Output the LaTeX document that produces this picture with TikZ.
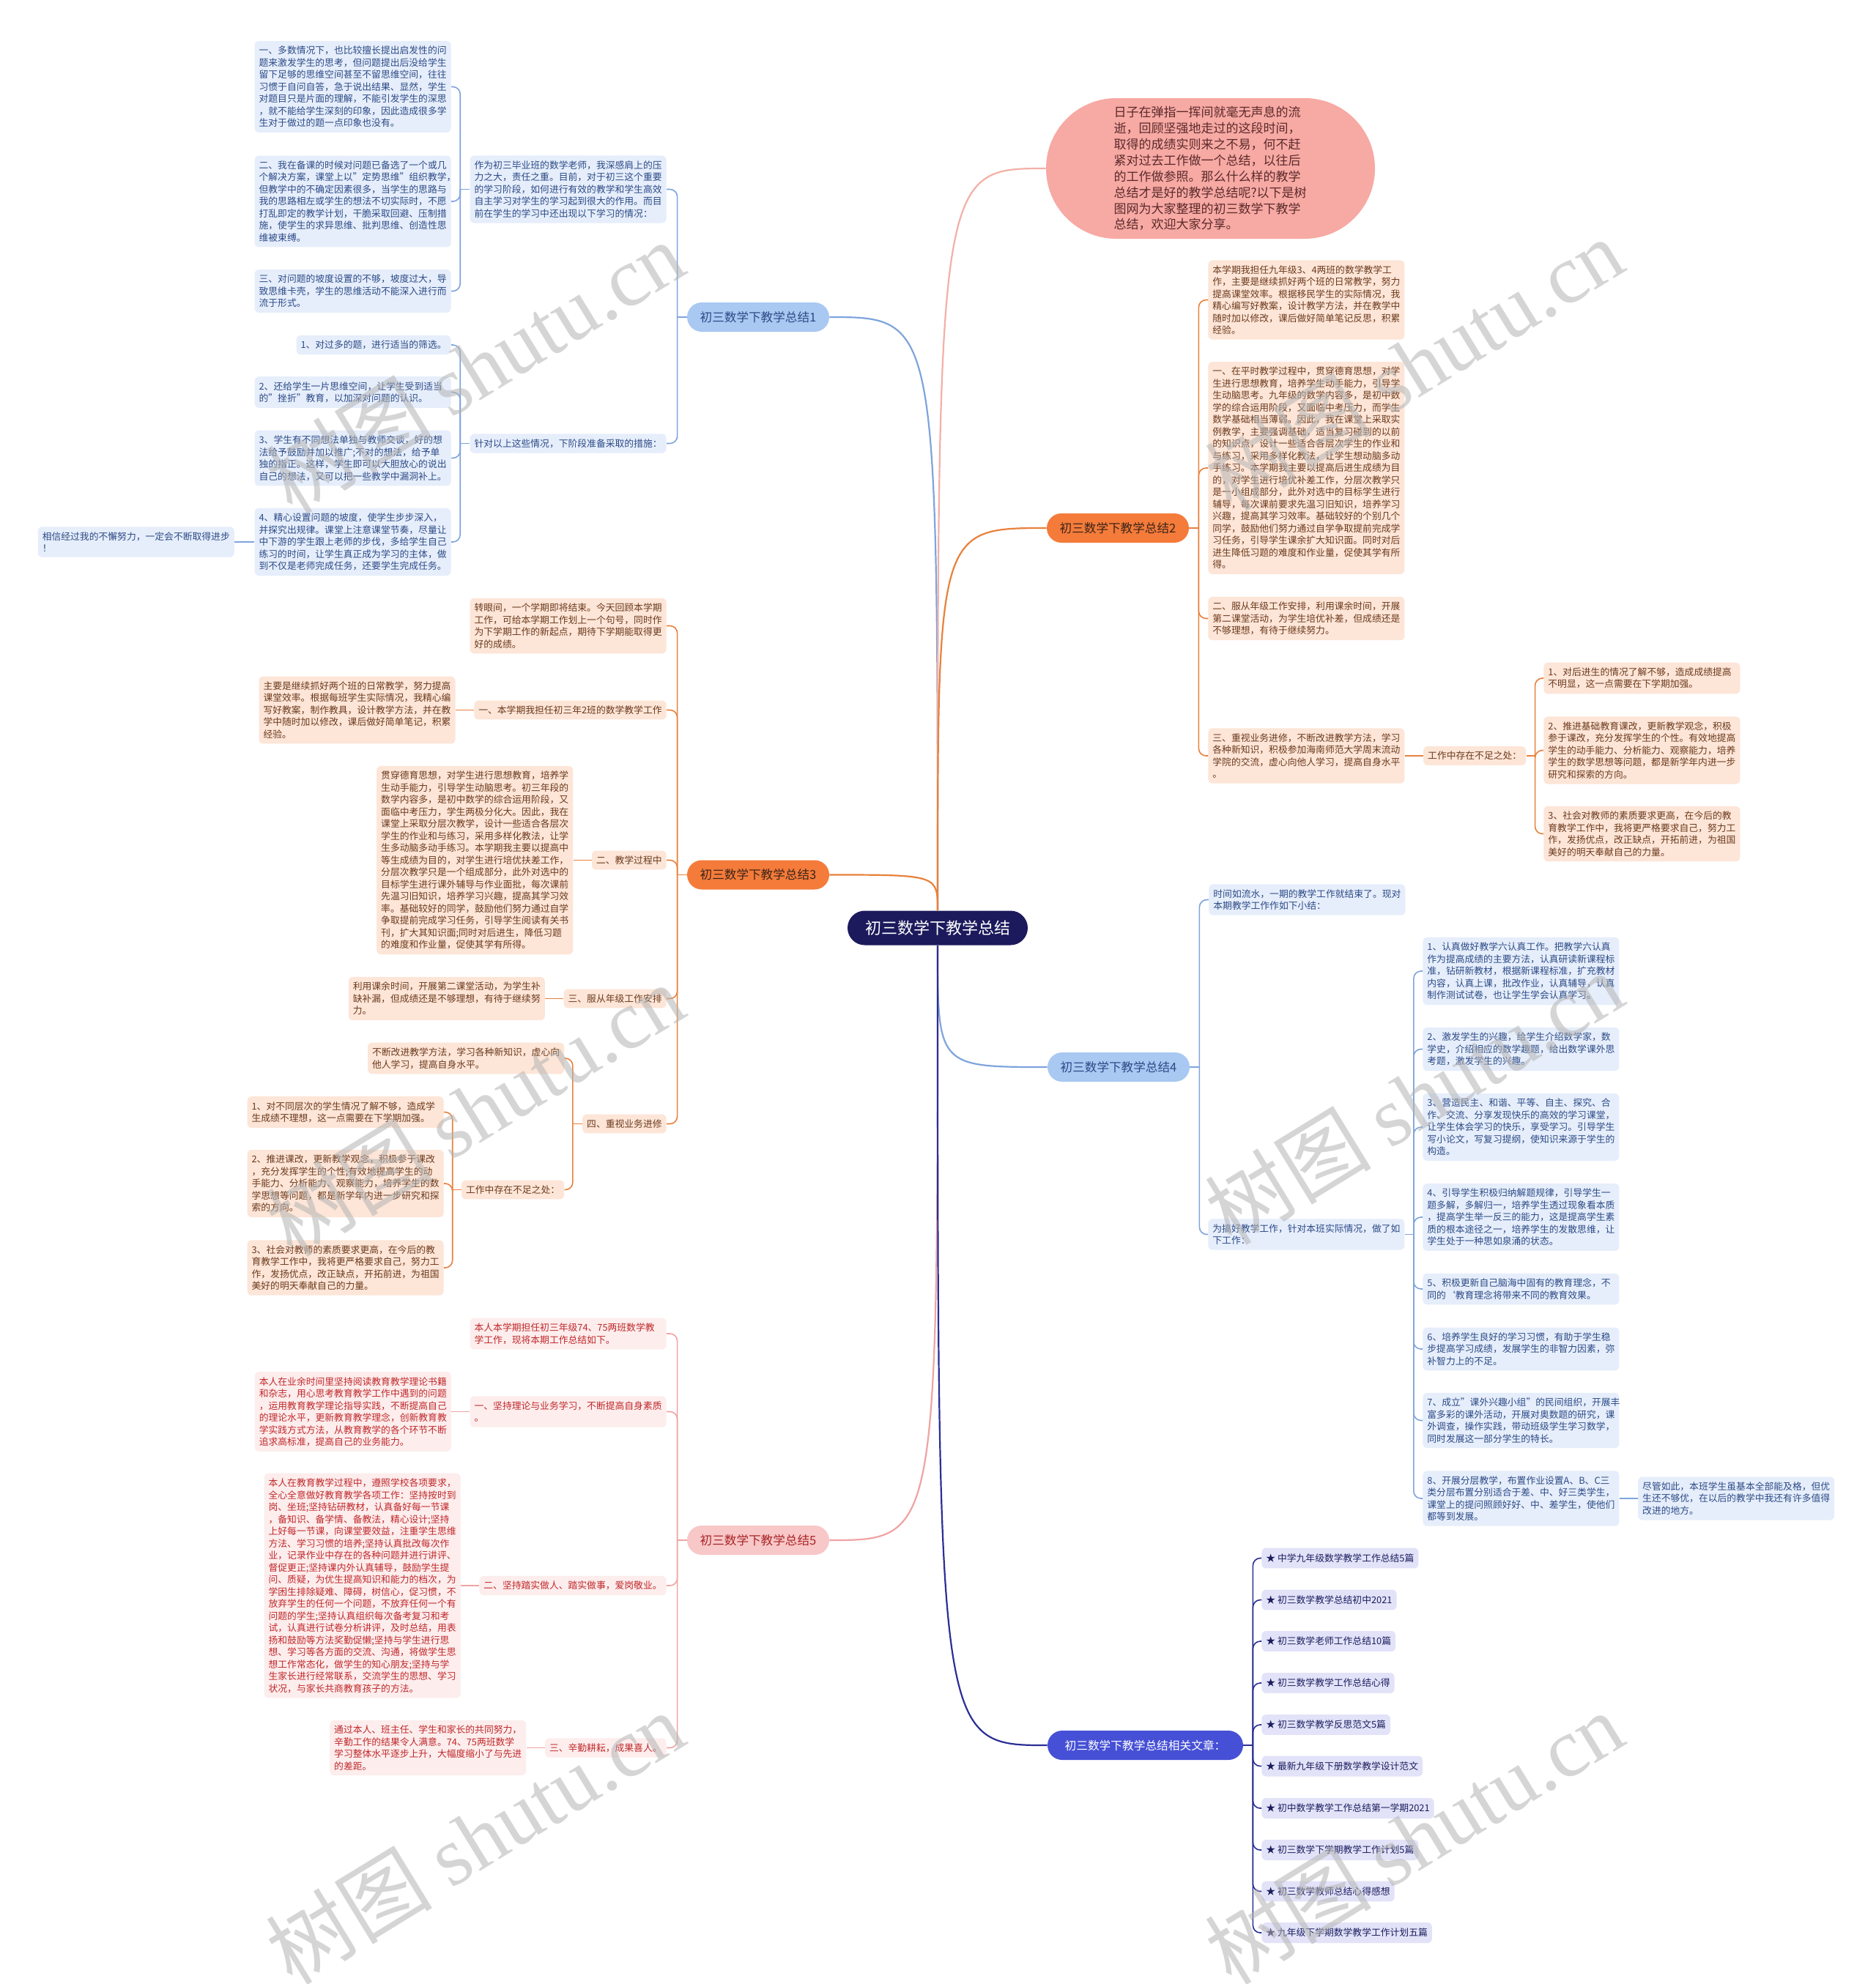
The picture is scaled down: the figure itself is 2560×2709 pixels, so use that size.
\documentclass[tikz,border=0pt]{standalone}
\usepackage{fontspec}
\setmainfont{Noto Sans CJK SC}
\newfontfamily\wmfont{Liberation Serif}
\usepackage{xcolor}
\usetikzlibrary{positioning}
\definecolor{CoreNavy}{HTML}{1C1A5C}
\definecolor{BlueNode}{HTML}{A9C8F2}
\definecolor{BlueText}{HTML}{2C4A86}
\definecolor{BlueBox}{HTML}{E6EEFB}
\definecolor{BlueLine}{HTML}{7EA4DC}
\definecolor{OrangeNode}{HTML}{F47B3A}
\definecolor{OrangeDark}{HTML}{3D2418}
\definecolor{OrangeBox}{HTML}{FDE5D7}
\definecolor{OrangeText}{HTML}{6B3A1D}
\definecolor{OrangeLine}{HTML}{E8813C}
\definecolor{PinkNode}{HTML}{F8C7C7}
\definecolor{PinkDark}{HTML}{A82426}
\definecolor{PinkBox}{HTML}{FDEDED}
\definecolor{PinkText}{HTML}{C0282A}
\definecolor{PinkLine}{HTML}{F0A3A3}
\definecolor{IntroFill}{HTML}{F7A9A4}
\definecolor{IntroText}{HTML}{5A2A2A}
\definecolor{IntroLine}{HTML}{F3B0A6}
\definecolor{ArtNode}{HTML}{4650D6}
\definecolor{ArtBox}{HTML}{E2E3F8}
\definecolor{ArtText}{HTML}{1C1D5E}
\definecolor{ArtLine}{HTML}{2B2F96}
\definecolor{WaterGray}{HTML}{B4B4B4}
\newcommand\boxfont{\fontsize{6.4pt}{8.25pt}\selectfont}
\newcommand\branchfont{\fontsize{8.3pt}{10pt}\selectfont}
\newcommand\corefont{\fontsize{11pt}{13pt}\selectfont}
\newcommand\introfont{\fontsize{8.5pt}{10.95pt}\selectfont}

\begin{document}
\begin{tikzpicture}[
  x=0.5pt, y=-0.5pt,
  node distance=12.5pt,
  box/.style={rounded corners=3pt,inner xsep=3pt,inner ysep=3.5pt,align=left,font=\boxfont},
  para/.style={box,text width=128pt},
  bpara/.style={para,fill=BlueBox,text=BlueText},
  bline/.style={box,fill=BlueBox,text=BlueText},
  opara/.style={para,fill=OrangeBox,text=OrangeText},
  oline/.style={box,fill=OrangeBox,text=OrangeText},
  ppara/.style={para,fill=PinkBox,text=PinkText},
  pline/.style={box,fill=PinkBox,text=PinkText},
  artbox/.style={box,fill=ArtBox,text=ArtText,inner ysep=4pt},
  branch/.style={rounded corners=10pt,minimum width=97pt,minimum height=20pt,inner sep=0pt,font=\branchfont},
  link/.style={rounded corners=5pt,line width=0.8pt},
  mainlink/.style={line width=1.1pt},
  wmark/.style={rotate=31.5,text=WaterGray,opacity=0.55,font=\fontsize{57pt}{60pt}\selectfont}
]
  \useasboundingbox[fill=white] (0,0) rectangle (2560,2709);

  % centre and intro
  \node[fill=CoreNavy,text=white,rounded corners=11.75pt,minimum width=123pt,minimum height=23.5pt,inner sep=0pt,font=\corefont] (core) at (1280,1267) {初三数学下教学总结};
  \node[fill=IntroFill,text=IntroText,rounded corners=48pt,minimum width=224.5pt,minimum height=96pt,inner sep=0pt,text width=132pt,align=left,font=\introfont] (intro) at (1652.5,230) {日子在弹指一挥间就毫无声息的流\\逝，回顾坚强地走过的这段时间，\\取得的成绩实则来之不易，何不赶\\紧对过去工作做一个总结，以往后\\的工作做参照。那么什么样的教学\\总结才是好的教学总结呢?以下是树\\图网为大家整理的初三数学下教学\\总结，欢迎大家分享。};

  % branch nodes
  \node[branch,fill=BlueNode,text=BlueText] (b1) at (1035,433) {初三数学下教学总结1};
  \node[branch,fill=OrangeNode,text=OrangeDark] (b2) at (1526,721) {初三数学下教学总结2};
  \node[branch,fill=OrangeNode,text=OrangeDark] (b3) at (1035,1194.5) {初三数学下教学总结3};
  \node[branch,fill=BlueNode,text=BlueText] (b4) at (1527,1457) {初三数学下教学总结4};
  \node[branch,fill=PinkNode,text=PinkDark] (b5) at (1035,2103) {初三数学下教学总结5};
  \node[branch,fill=ArtNode,text=white,minimum width=133.5pt,font=\fontsize{7.85pt}{9pt}\selectfont] (b6) at (1563.5,2383) {初三数学下教学总结相关文章：};

  % branch 1
  \node[bpara,anchor=east] (n1a) at (910,258.5) {作为初三毕业班的数学老师，我深感肩上的压\\力之大，责任之重。目前，对于初三这个重要\\的学习阶段，如何进行有效的教学和学生高效\\自主学习对学生的学习起到很大的作用。而目\\前在学生的学习中还出现以下学习的情况：};
  \node[bline,anchor=east] (n1b) at (910,605.5) {针对以上这些情况，下阶段准备采取的措施：};
  \node[bpara,anchor=east] (n1a1) at (616,118.5) {一、多数情况下，也比较擅长提出启发性的问\\题来激发学生的思考，但问题提出后没给学生\\留下足够的思维空间甚至不留思维空间，往往\\习惯于自问自答，急于说出结果、显然，学生\\对题目只是片面的理解，不能引发学生的深思\\，就不能给学生深刻的印象，因此造成很多学\\生对于做过的题一点印象也没有。};
  \node[bpara,anchor=east] (n1a2) at (616,275) {二、我在备课的时候对问题已备选了一个或几\\个解决方案，课堂上以"定势思维"组织教学，\\但教学中的不确定因素很多，当学生的思路与\\我的思路相左或学生的想法不切实际时，不愿\\打乱即定的教学计划，干脆采取回避、压制措\\施，使学生的求异思维、批判思维、创造性思\\维被束缚。};
  \node[bpara,anchor=east] (n1a3) at (616,397.5) {三、对问题的坡度设置的不够，坡度过大，导\\致思维卡壳，学生的思维活动不能深入进行而\\流于形式。};
  \node[bline,anchor=east] (n1b1) at (616,471) {1、对过多的题，进行适当的筛选。};
  \node[bpara,anchor=east] (n1b2) at (616,535.5) {2、还给学生一片思维空间，让学生受到适当\\的"挫折"教育，以加深对问题的认识。};
  \node[bpara,anchor=east] (n1b3) at (616,625.5) {3、学生有不同想法单独与教师交谈，好的想\\法给予鼓励并加以推广;不对的想法，给予单\\独的指正。这样，学生即可以大胆放心的说出\\自己的想法，又可以把一些教学中漏洞补上。};
  \node[bpara,anchor=east] (n1b4) at (616,740) {4、精心设置问题的坡度，使学生步步深入，\\并探究出规律。课堂上注意课堂节奏，尽量让\\中下游的学生跟上老师的步伐，多给学生自己\\练习的时间，让学生真正成为学习的主体，做\\到不仅是老师完成任务，还要学生完成任务。};
  \node[bpara,left=13.5pt of n1b4] (n1b4a) {相信经过我的不懈努力，一定会不断取得进步\\！};

  % branch 2
  \node[opara,anchor=west] (n2a) at (1649,409.5) {本学期我担任九年级3、4两班的数学教学工\\作，主要是继续抓好两个班的日常教学，努力\\提高课堂效率。根据移民学生的实际情况，我\\精心编写好教案，设计教学方法，并在教学中\\随时加以修改，课后做好简单笔记反思，积累\\经验。};
  \node[opara,anchor=west] (n2b) at (1649,639) {一、在平时教学过程中，贯穿德育思想，对学\\生进行思想教育，培养学生动手能力，引导学\\生动脑思考。九年级的数学内容多，是初中数\\学的综合运用阶段，又面临中考压力，而学生\\数学基础相当薄弱。因此，我在课堂上采取实\\例教学，主要强调基础，适当复习碰到的以前\\的知识点，设计一些适合各层次学生的作业和\\与练习，采用多样化教法，让学生想动脑多动\\手练习。本学期我主要以提高后进生成绩为目\\的，对学生进行培优补差工作，分层次教学只\\是一小组成部分，此外对选中的目标学生进行\\辅导，每次课前要求先温习旧知识，培养学习\\兴趣，提高其学习效率。基础较好的个别几个\\同学，鼓励他们努力通过自学争取提前完成学\\习任务，引导学生课余扩大知识面。同时对后\\进生降低习题的难度和作业量，促使其学有所\\得。};
  \node[opara,anchor=west] (n2c) at (1649,844.5) {二、服从年级工作安排，利用课余时间，开展\\第二课堂活动，为学生培优补差，但成绩还是\\不够理想，有待于继续努力。};
  \node[opara,anchor=west] (n2d) at (1649,1032) {三、重视业务进修，不断改进教学方法，学习\\各种新知识，积极参加海南师范大学周末流动\\学院的交流，虚心向他人学习，提高自身水平\\。};
  \node[oline,right=of n2d] (n2d1) {工作中存在不足之处：};
  \node[opara,anchor=west] (n2d1a) at (2107,926) {1、对后进生的情况了解不够，造成成绩提高\\不明显，这一点需要在下学期加强。};
  \node[opara,anchor=west] (n2d1b) at (2107,1024.5) {2、推进基础教育课改，更新教学观念，积极\\参于课改，充分发挥学生的个性。有效地提高\\学生的动手能力、分析能力、观察能力，培养\\学生的数学思想等问题，都是新学年内进一步\\研究和探索的方向。};
  \node[opara,anchor=west] (n2d1c) at (2107,1138.5) {3、社会对教师的素质要求更高，在今后的教\\育教学工作中，我将更严格要求自己，努力工\\作，发扬优点，改正缺点，开拓前进，为祖国\\美好的明天奉献自己的力量。};

  % branch 3
  \node[opara,anchor=east] (n3a) at (910,854.5) {转眼间，一个学期即将结束。今天回顾本学期\\工作，可给本学期工作划上一个句号，同时作\\为下学期工作的新起点，期待下学期能取得更\\好的成绩。};
  \node[oline,anchor=east] (n3b) at (910,969.5) {一、本学期我担任初三年2班的数学教学工作};
  \node[opara,left=of n3b] (n3b1) {主要是继续抓好两个班的日常教学，努力提高\\课堂效率。根据每班学生实际情况，我精心编\\写好教案，制作教具，设计教学方法，并在教\\学中随时加以修改，课后做好简单笔记，积累\\经验。};
  \node[oline,anchor=east] (n3c) at (910,1174.5) {二、教学过程中};
  \node[opara,left=of n3c] (n3c1) {贯穿德育思想，对学生进行思想教育，培养学\\生动手能力，引导学生动脑思考。初三年段的\\数学内容多，是初中数学的综合运用阶段，又\\面临中考压力，学生两极分化大。因此，我在\\课堂上采取分层次教学，设计一些适合各层次\\学生的作业和与练习，采用多样化教法，让学\\生多动脑多动手练习。本学期我主要以提高中\\等生成绩为目的，对学生进行培优扶差工作，\\分层次教学只是一个组成部分，此外对选中的\\目标学生进行课外辅导与作业面批，每次课前\\先温习旧知识，培养学习兴趣，提高其学习效\\率。基础较好的同学，鼓励他们努力通过自学\\争取提前完成学习任务，引导学生阅读有关书\\刊，扩大其知识面;同时对后进生，降低习题\\的难度和作业量，促使其学有所得。};
  \node[oline,anchor=east] (n3d) at (910,1363.5) {三、服从年级工作安排};
  \node[opara,left=of n3d] (n3d1) {利用课余时间，开展第二课堂活动，为学生补\\缺补漏，但成绩还是不够理想，有待于继续努\\力。};
  \node[oline,anchor=east] (n3e) at (910,1534.5) {四、重视业务进修};
  \node[opara,anchor=east] (n3e1) at (770.5,1445) {不断改进教学方法，学习各种新知识，虚心向\\他人学习，提高自身水平。};
  \node[oline,anchor=east] (n3e2) at (770.5,1624.5) {工作中存在不足之处：};
  \node[opara,anchor=east] (n3e2a) at (606,1518.5) {1、对不同层次的学生情况了解不够，造成学\\生成绩不理想，这一点需要在下学期加强。};
  \node[opara,anchor=east] (n3e2b) at (606,1616) {2、推进课改，更新教学观念，积极参于课改\\，充分发挥学生的个性;有效地提高学生的动\\手能力、分析能力、观察能力，培养学生的数\\学思想等问题，都是新学年内进一步研究和探\\索的方向。};
  \node[opara,anchor=east] (n3e2c) at (606,1731) {3、社会对教师的素质要求更高，在今后的教\\育教学工作中，我将更严格要求自己，努力工\\作，发扬优点，改正缺点，开拓前进，为祖国\\美好的明天奉献自己的力量。};

  % branch 4
  \node[bpara,anchor=west] (n4a) at (1650,1228.5) {时间如流水，一期的教学工作就结束了。现对\\本期教学工作作如下小结：};
  \node[bpara,anchor=west] (n4b) at (1649,1685.5) {为搞好教学工作，针对本班实际情况，做了如\\下工作：};
  \node[bpara,anchor=west] (n4b1) at (1942,1326) {1、认真做好教学六认真工作。把教学六认真\\作为提高成绩的主要方法，认真研读新课程标\\准，钻研新教材，根据新课程标准，扩充教材\\内容，认真上课，批改作业，认真辅导，认真\\制作测试试卷，也让学生学会认真学习。};
  \node[bpara,anchor=west] (n4b2) at (1942,1432.5) {2、激发学生的兴趣，给学生介绍数学家，数\\学史，介绍相应的数学趣题，给出数学课外思\\考题，激发学生的兴趣。};
  \node[bpara,anchor=west] (n4b3) at (1942,1539) {3、营造民主、和谐、平等、自主、探究、合\\作、交流、分享发现快乐的高效的学习课堂，\\让学生体会学习的快乐，享受学习。引导学生\\写小论文，写复习提纲，使知识来源于学生的\\构造。};
  \node[bpara,anchor=west] (n4b4) at (1942,1662) {4、引导学生积极归纳解题规律，引导学生一\\题多解，多解归一，培养学生透过现象看本质\\，提高学生举一反三的能力，这是提高学生素\\质的根本途径之一，培养学生的发散思维，让\\学生处于一种思如泉涌的状态。};
  \node[bpara,anchor=west] (n4b5) at (1942,1760) {5、积极更新自己脑海中固有的教育理念，不\\同的`教育理念将带来不同的教育效果。};
  \node[bpara,anchor=west] (n4b6) at (1942,1842) {6、培养学生良好的学习习惯，有助于学生稳\\步提高学习成绩，发展学生的非智力因素，弥\\补智力上的不足。};
  \node[bpara,anchor=west] (n4b7) at (1942,1939.5) {7、成立"课外兴趣小组"的民间组织，开展丰\\富多彩的课外活动，开展对奥数题的研究，课\\外调查，操作实践，带动班级学生学习数学，\\同时发展这一部分学生的特长。};
  \node[bpara,anchor=west] (n4b8) at (1942,2046) {8、开展分层教学，布置作业设置A、B、C三\\类分层布置分别适合于差、中、好三类学生，\\课堂上的提问照顾好好、中、差学生，使他们\\都等到发展。};
  \node[bpara,right=of n4b8] (n4b8a) {尽管如此，本班学生虽基本全部能及格，但优\\生还不够优，在以后的教学中我还有许多值得\\改进的地方。};

  % branch 5
  \node[ppara,anchor=east] (n5a) at (910,1821) {本人本学期担任初三年级74、75两班数学教\\学工作，现将本期工作总结如下。};
  \node[ppara,anchor=east] (n5b) at (910,1927.5) {一、坚持理论与业务学习，不断提高自身素质\\。};
  \node[ppara,left=of n5b] (n5b1) {本人在业余时间里坚持阅读教育教学理论书籍\\和杂志，用心思考教育教学工作中遇到的问题\\，运用教育教学理论指导实践，不断提高自己\\的理论水平，更新教育教学理念，创新教育教\\学实践方式方法，从教育教学的各个环节不断\\追求高标准，提高自己的业务能力。};
  \node[pline,anchor=east] (n5c) at (910,2165) {二、坚持踏实做人、踏实做事，爱岗敬业。};
  \node[ppara,left=of n5c] (n5c1) {本人在教育教学过程中，遵照学校各项要求，\\全心全意做好教育教学各项工作：坚持按时到\\岗、坐班;坚持钻研教材，认真备好每一节课\\，备知识、备学情、备教法，精心设计;坚持\\上好每一节课，向课堂要效益，注重学生思维\\方法、学习习惯的培养;坚持认真批改每次作\\业，记录作业中存在的各种问题并进行讲评、\\督促更正;坚持课内外认真辅导，鼓励学生提\\问、质疑，为优生提高知识和能力的档次，为\\学困生排除疑难、障碍，树信心，促习惯，不\\放弃学生的任何一个问题，不放弃任何一个有\\问题的学生;坚持认真组织每次备考复习和考\\试，认真进行试卷分析讲评，及时总结，用表\\扬和鼓励等方法奖勤促懒;坚持与学生进行思\\想、学习等各方面的交流、沟通，将做学生思\\想工作常态化，做学生的知心朋友;坚持与学\\生家长进行经常联系，交流学生的思想、学习\\状况，与家长共商教育孩子的方法。};
  \node[pline,anchor=east] (n5d) at (910,2386.5) {三、辛勤耕耘，成果喜人。};
  \node[ppara,left=of n5d] (n5d1) {通过本人、班主任、学生和家长的共同努力，\\辛勤工作的结果令人满意。74、75两班数学\\学习整体水平逐步上升，大幅度缩小了与先进\\的差距。};

  % related articles
  \node[artbox,anchor=west] (art1) at (1722,2127.5) {★ 中学九年级数学教学工作总结5篇};
  \node[artbox,anchor=west] (art2) at (1722,2184.5) {★ 初三数学教学总结初中2021};
  \node[artbox,anchor=west] (art3) at (1722,2241) {★ 初三数学老师工作总结10篇};
  \node[artbox,anchor=west] (art4) at (1722,2298) {★ 初三数学教学工作总结心得};
  \node[artbox,anchor=west] (art5) at (1722,2355) {★ 初三数学教学反思范文5篇};
  \node[artbox,anchor=west] (art6) at (1722,2411.5) {★ 最新九年级下册数学教学设计范文};
  \node[artbox,anchor=west] (art7) at (1722,2469) {★ 初中数学教学工作总结第一学期2021};
  \node[artbox,anchor=west] (art8) at (1722,2526) {★ 初三数学下学期教学工作计划5篇};
  \node[artbox,anchor=west] (art9) at (1722,2582.5) {★ 初三数学教师总结心得感想};
  \node[artbox,anchor=west] (art10) at (1722,2639) {★ 九年级下学期数学教学工作计划五篇};

  % main connectors
  \draw[mainlink,BlueLine] (core.north) .. controls (core.north |- b1.east) .. (b1.east);
  \draw[mainlink,IntroLine] (core.north) .. controls (core.north |- intro.west) .. (intro.west);
  \draw[mainlink,OrangeLine] (core.north) .. controls (core.north |- b2.west) .. (b2.west);
  \draw[mainlink,OrangeLine] (core.north) .. controls (core.north |- b3.east) .. (b3.east);
  \draw[mainlink,BlueLine] (core.south) .. controls (core.south |- b4.west) .. (b4.west);
  \draw[mainlink,PinkLine] (core.south) .. controls (core.south |- b5.east) .. (b5.east);
  \draw[mainlink,ArtLine] (core.south) .. controls (core.south |- b6.west) .. (b6.west);

  % branch 1 links
  \draw[link,BlueLine] (b1.west) -- ++(-13,0) coordinate (t1);
  \draw[link,BlueLine] (t1) |- (n1a.east);
  \draw[link,BlueLine] (t1) |- (n1b.east);
  \draw[link,BlueLine] (n1a.west) -- ++(-13,0) coordinate (t1a);
  \draw[link,BlueLine] (t1a) |- (n1a1.east);
  \draw[link,BlueLine] (t1a) |- (n1a2.east);
  \draw[link,BlueLine] (t1a) |- (n1a3.east);
  \draw[link,BlueLine] (n1b.west) -- ++(-13,0) coordinate (t1b);
  \draw[link,BlueLine] (t1b) |- (n1b1.east);
  \draw[link,BlueLine] (t1b) |- (n1b2.east);
  \draw[link,BlueLine] (t1b) |- (n1b3.east);
  \draw[link,BlueLine] (t1b) |- (n1b4.east);
  \draw[link,BlueLine] (n1b4.west) -- (n1b4a.east);

  % branch 2 links
  \draw[link,OrangeLine] (b2.east) -- ++(13,0) coordinate (t2);
  \draw[link,OrangeLine] (t2) |- (n2a.west);
  \draw[link,OrangeLine] (t2) |- (n2b.west);
  \draw[link,OrangeLine] (t2) |- (n2c.west);
  \draw[link,OrangeLine] (t2) |- (n2d.west);
  \draw[link,OrangeLine] (n2d.east) -- (n2d1.west);
  \draw[link,OrangeLine] (n2d1.east) -- ++(12,0) coordinate (t2d);
  \draw[link,OrangeLine] (t2d) |- (n2d1a.west);
  \draw[link,OrangeLine] (t2d) |- (n2d1b.west);
  \draw[link,OrangeLine] (t2d) |- (n2d1c.west);

  % branch 3 links
  \draw[link,OrangeLine] (b3.west) -- ++(-13,0) coordinate (t3);
  \draw[link,OrangeLine] (t3) |- (n3a.east);
  \draw[link,OrangeLine] (t3) |- (n3b.east);
  \draw[link,OrangeLine] (t3) |- (n3c.east);
  \draw[link,OrangeLine] (t3) |- (n3d.east);
  \draw[link,OrangeLine] (t3) |- (n3e.east);
  \draw[link,OrangeLine] (n3b.west) -- (n3b1.east);
  \draw[link,OrangeLine] (n3c.west) -- (n3c1.east);
  \draw[link,OrangeLine] (n3d.west) -- (n3d1.east);
  \draw[link,OrangeLine] (n3e.west) -- ++(-13,0) coordinate (t3e);
  \draw[link,OrangeLine] (t3e) |- (n3e1.east);
  \draw[link,OrangeLine] (t3e) |- (n3e2.east);
  \draw[link,OrangeLine] (n3e2.west) -- ++(-12,0) coordinate (t3f);
  \draw[link,OrangeLine] (t3f) |- (n3e2a.east);
  \draw[link,OrangeLine] (t3f) |- (n3e2b.east);
  \draw[link,OrangeLine] (t3f) |- (n3e2c.east);

  % branch 4 links
  \draw[link,BlueLine] (b4.east) -- ++(13,0) coordinate (t4);
  \draw[link,BlueLine] (t4) |- (n4a.west);
  \draw[link,BlueLine] (t4) |- (n4b.west);
  \draw[link,BlueLine] (n4b.east) -- ++(12,0) coordinate (t4b);
  \draw[link,BlueLine] (t4b) |- (n4b1.west);
  \draw[link,BlueLine] (t4b) |- (n4b2.west);
  \draw[link,BlueLine] (t4b) |- (n4b3.west);
  \draw[link,BlueLine] (t4b) |- (n4b4.west);
  \draw[link,BlueLine] (t4b) |- (n4b5.west);
  \draw[link,BlueLine] (t4b) |- (n4b6.west);
  \draw[link,BlueLine] (t4b) |- (n4b7.west);
  \draw[link,BlueLine] (t4b) |- (n4b8.west);
  \draw[link,BlueLine] (n4b8.east) -- (n4b8a.west);

  % branch 5 links
  \draw[link,PinkLine] (b5.west) -- ++(-13,0) coordinate (t5);
  \draw[link,PinkLine] (t5) |- (n5a.east);
  \draw[link,PinkLine] (t5) |- (n5b.east);
  \draw[link,PinkLine] (t5) |- (n5c.east);
  \draw[link,PinkLine] (t5) |- (n5d.east);
  \draw[link,PinkLine] (n5b.west) -- (n5b1.east);
  \draw[link,PinkLine] (n5c.west) -- (n5c1.east);
  \draw[link,PinkLine] (n5d.west) -- (n5d1.east);

  % related article links
  \draw[link,ArtLine] (b6.east) -- ++(13,0) coordinate (t6);
  \draw[link,ArtLine] (t6) |- (art1.west);
  \draw[link,ArtLine] (t6) |- (art2.west);
  \draw[link,ArtLine] (t6) |- (art3.west);
  \draw[link,ArtLine] (t6) |- (art4.west);
  \draw[link,ArtLine] (t6) |- (art5.west);
  \draw[link,ArtLine] (t6) |- (art6.west);
  \draw[link,ArtLine] (t6) |- (art7.west);
  \draw[link,ArtLine] (t6) |- (art8.west);
  \draw[link,ArtLine] (t6) |- (art9.west);
  \draw[link,ArtLine] (t6) |- (art10.west);

  % watermarks
  \node[wmark] (wm1) at (648,501) {树图 {\wmfont shutu.cn}};
  \node[wmark] (wm2) at (1930,497) {树图 {\wmfont shutu.cn}};
  \node[wmark] (wm3) at (648,1515) {树图 {\wmfont shutu.cn}};
  \node[wmark] (wm4) at (1930,1499) {树图 {\wmfont shutu.cn}};
  \node[wmark] (wm5) at (648,2509) {树图 {\wmfont shutu.cn}};
  \node[wmark] (wm6) at (1930,2509) {树图 {\wmfont shutu.cn}};
\end{tikzpicture}
\end{document}
